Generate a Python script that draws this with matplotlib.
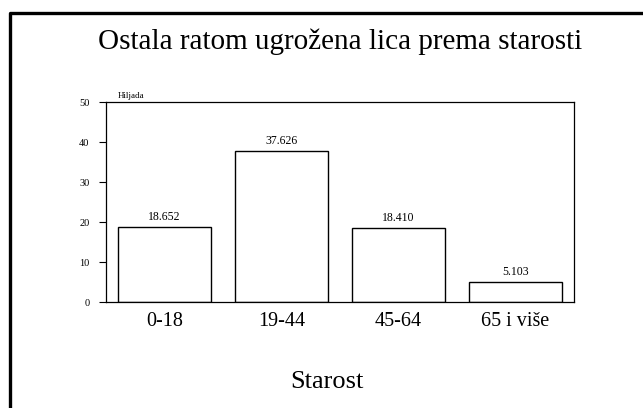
import matplotlib
matplotlib.use("Agg")
import matplotlib.pyplot as plt
from matplotlib.lines import Line2D

# ratom ugrozena lica po starosnim grupama (u hiljadama)
categories = ["0-18", "19-44", "45-64", "65 i više"]
values = [18.652, 37.626, 18.410, 5.103]
value_labels = ["18.652", "37.626", "18.410", "5.103"]
y_ticks = [0, 10, 20, 30, 40, 50]

plt.rcParams['font.family'] = ['Liberation Serif', 'DejaVu Serif']

fig = plt.figure(figsize=(6.43, 4.08), dpi=100)
ax = fig.add_axes([106 / 643, 1 - 302 / 408, 468 / 643, 200 / 408])

x = range(len(categories))
ax.bar(x, values, width=0.8, color="white", edgecolor="black", linewidth=1.0)
for i, v in enumerate(values):
    ax.text(i, v + 1.0, value_labels[i], ha="center", va="bottom", fontsize=8.5)

ax.set_xlim(-0.5, 3.5)
ax.set_ylim(0, 50)
ax.set_yticks(y_ticks)
ax.tick_params(axis="y", labelsize=7.5, length=5, width=0.8, pad=7, direction="out")
ax.set_xticks(list(x))
ax.set_xticklabels(categories, fontsize=14.5)
ax.tick_params(axis="x", length=0, pad=7)
for s in ax.spines.values():
    s.set_linewidth(0.9)

ax.text(0.025, 1.01, "Hiljada", transform=ax.transAxes, fontsize=6.5,
        ha="left", va="bottom")

fig.text(340 / 643, 1 - 42 / 408, "Ostala ratom ugrožena lica prema starosti",
         ha="center", va="center", fontsize=21)
fig.text(327 / 643, 1 - 382 / 408, "Starost", ha="center", va="center",
         fontsize=19)

# okvir slike
fig.add_artist(Line2D([10 / 643, 10 / 643, 1.0], [0.0, 1 - 13 / 408, 1 - 13 / 408],
                      transform=fig.transFigure, color="black", linewidth=2.4))

fig.savefig("out.png", dpi=100)
